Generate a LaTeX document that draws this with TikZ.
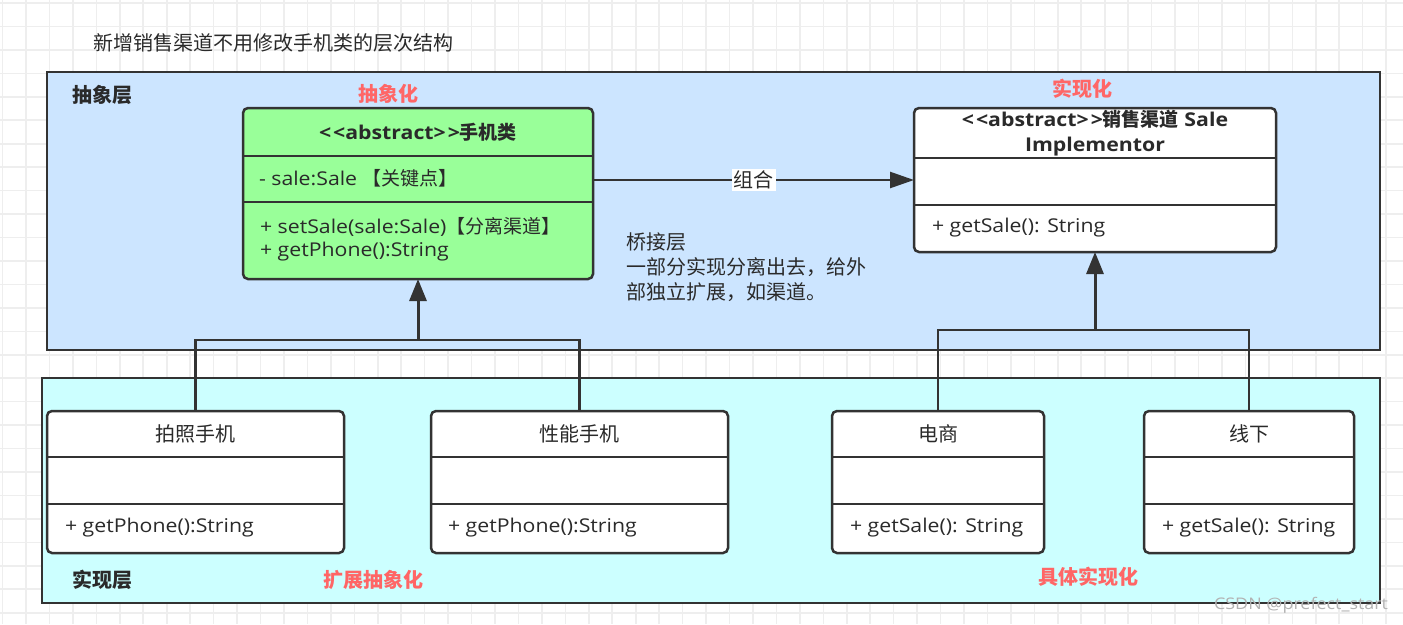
\documentclass[tikz,border=0pt]{standalone}
\usepackage{fontspec}
\setmainfont{Open Sans}[FakeStretch=1.12]
\newfontfamily\cjk{Noto Sans CJK SC}
\usetikzlibrary{arrows.meta}
\definecolor{bluefill}{HTML}{CCE5FF}
\definecolor{cyanfill}{HTML}{CCFFFF}
\definecolor{greenfill}{HTML}{99FF99}
\definecolor{linec}{HTML}{333333}
\definecolor{textc}{HTML}{2A2A2A}
\definecolor{redc}{HTML}{FF6666}
\definecolor{gridc}{HTML}{EEEEEE}
\begin{document}
\begin{tikzpicture}[x=1pt,y=-1pt,
  every node/.style={text=textc, font=\fontsize{19}{23}\selectfont, inner sep=0pt, outer sep=0pt},
  layer/.style={draw=linec, line width=2.5pt, anchor=north west},
  umlbox/.style={draw=linec, line width=2.5pt, rounded corners=5pt, fill=white, anchor=north west},
  divider/.style={draw=linec, line width=2.5pt},
  hdr/.style={font=\fontsize{19}{25}\selectfont\bfseries},
  cname/.style={font=\fontsize{20}{25}\selectfont\cjk},
  member/.style={anchor=west, font=\fontsize{19}{25}\selectfont},
  lbl/.style={font=\fontsize{20}{25}\selectfont\cjk\bfseries},
  redlbl/.style={font=\fontsize{20}{25}\selectfont\cjk\bfseries, text=redc},
  conn/.style={draw=linec, line width=2.5pt},
  inherit/.style={draw=linec, line width=3pt, -{Triangle[length=22pt,width=17pt]}},
  compose/.style={draw=linec, line width=2.5pt, -{Triangle[length=24pt,width=16pt]}}
]
\useasboundingbox (0,0) rectangle (1403,624);
\fill[white] (0,0) rectangle (1403,624);
% grid
\foreach \i in {0,...,59} \draw[gridc, line width=1.6pt] (2.55+\i*23.45,0) -- (2.55+\i*23.45,624);
\foreach \j in {0,...,26} \draw[gridc, line width=1.6pt] (0,3+\j*23.45) -- (1403,3+\j*23.45);

% title
\node[anchor=west, font=\fontsize{20}{25}\selectfont\cjk] (title) at (93,43) {新增销售渠道不用修改手机类的层次结构};

% layers
\node[layer, fill=bluefill, minimum width=1333pt, minimum height=278pt] (abslayer) at (47,72) {};
\node[layer, fill=cyanfill, minimum width=1338pt, minimum height=225pt] (impllayer) at (42,378) {};

\node[lbl, anchor=west] (abslbl) at (72,95) {抽象层};
\node[lbl] (impllbl) at (102,580) {实现层};
\node[redlbl] (r1) at (388,94) {抽象化};
\node[redlbl] (r2) at (1082,89) {实现化};
\node[redlbl] (r3) at (373,580) {扩展抽象化};
\node[redlbl] (r4) at (1088,577) {具体实现化};

% phone abstract class
\node[umlbox, fill=greenfill, minimum width=350pt, minimum height=171pt] (phone) at (243,108) {};
\draw[divider] ([yshift=-48pt]phone.north west) -- ([yshift=-48pt]phone.north east);
\draw[divider] ([yshift=-94pt]phone.north west) -- ([yshift=-94pt]phone.north east);
\node[hdr] (phonehdr) at (418,132) {<\kern2pt<abstract>\kern2pt>{\cjk 手机类}};
\node[member] (phoneattr) at (259,178) {- sale:Sale {\cjk 【关键点】}};
\node[member] (phonem1) at (260,227) {+ setSale(sale:Sale){\cjk 【分离渠道】}};
\node[member] (phonem2) at (260,252) {+ getPhone():String};

% sale implementor
\node[umlbox, minimum width=362pt, minimum height=144pt] (sale) at (914,108) {};
\draw[divider] ([yshift=-50pt]sale.north west) -- ([yshift=-50pt]sale.north east);
\draw[divider] ([yshift=-97pt]sale.north west) -- ([yshift=-97pt]sale.north east);
\node[hdr, align=center] (salehdr) at (1095,133.5) {<\kern2pt<abstract>\kern2pt>{\cjk 销售渠道} Sale\\Implementor};
\node[member] (salem1) at (932,228) {+ getSale(): String};

% bridge text
\node[anchor=west, align=left, font=\fontsize{20}{25}\selectfont\cjk] (bridge) at (626,267) {桥接层\\一部分实现分离出去，给外\\部独立扩展，如渠道。};

% concrete classes
\node[umlbox, minimum width=297pt, minimum height=142pt] (photo) at (47,411) {};
\node[umlbox, minimum width=297pt, minimum height=142pt] (perf) at (431,411) {};
\node[umlbox, minimum width=212pt, minimum height=142pt] (ecom) at (832,411) {};
\node[umlbox, minimum width=210pt, minimum height=142pt] (offline) at (1144,411) {};
\foreach \b in {photo,perf,ecom,offline}{
  \draw[divider] ([yshift=-46pt]\b.north west) -- ([yshift=-46pt]\b.north east);
  \draw[divider] ([yshift=-93pt]\b.north west) -- ([yshift=-93pt]\b.north east);
}
\node[cname] (photot) at (195.5,434) {拍照手机};
\node[member] (photom) at (65,528) {+ getPhone():String};
\node[cname] (perft) at (579.5,434) {性能手机};
\node[member] (perfm) at (448,528) {+ getPhone():String};
\node[cname] (ecomt) at (938,434) {电商};
\node[member] (ecomm) at (850,528) {+ getSale(): String};
\node[cname] (offt) at (1249,434) {线下};
\node[member] (offm) at (1162,528) {+ getSale(): String};

% connectors
\coordinate (yl) at (0,340);
\coordinate (yr) at (0,330);
\draw[conn] (photo.north) -- (photo.north |- yl) -- (perf.north |- yl) -- (perf.north);
\draw[inherit] (phone.south |- yl) -- (phone.south);
\draw[conn] (ecom.north) -- (ecom.north |- yr) -- (offline.north |- yr) -- (offline.north);
\draw[inherit] (sale.south |- yr) -- (sale.south);
\draw[compose] (phone.east |- sale.west) -- (sale.west)
  node[midway, fill=white, inner sep=2pt, font=\fontsize{20}{25}\selectfont\cjk] (complbl) {组合};

% watermark
\node[anchor=east, font=\fontsize{16}{20}\selectfont, text=gray!60] (wm) at (1388,605) {CSDN @prefect\_start};
\end{tikzpicture}
\end{document}
